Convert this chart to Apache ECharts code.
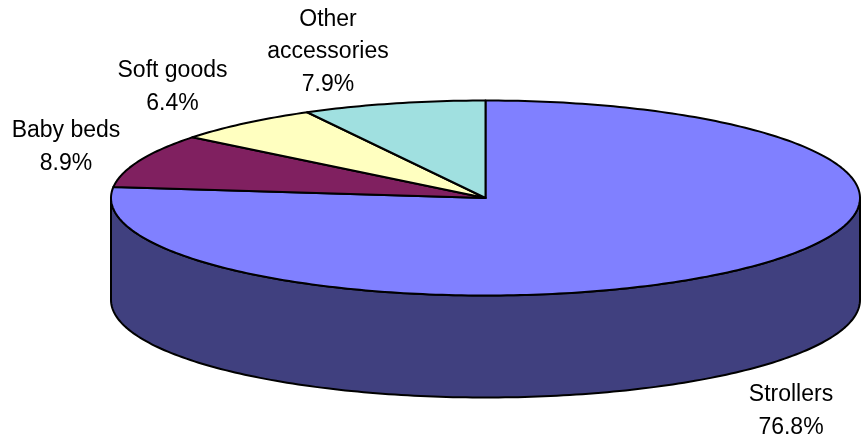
<!DOCTYPE html>
<html>
<head>
<meta charset="utf-8">
<style>html,body{margin:0;padding:0;background:#fff}#c{width:861px;height:443px}</style>
<script src="https://cdn.jsdelivr.net/npm/echarts@6/dist/echarts.min.js"></script>
</head>
<body>
<div id="c"></div>
<script>
const categories = ['Strollers', 'Baby beds', 'Soft goods', 'Other\naccessories'];
const shares = [76.8, 8.9, 6.4, 7.9];
const topColors = ['#8080FF', '#802060', '#FFFFC0', '#A0E0E0'];
const sideColors = ['#40407F', '#401030', '#80805F', '#507070'];
const labelCenters = [[791, 411], [66, 147], [172.5, 87], [328, 52]];

const CX = 485.5, CY = 198, RX = 374.5, RY = 97.5, DEPTH = 102;
const total = shares.reduce((a, b) => a + b, 0);
const pt = (deg, dy) => {
  const r = deg * Math.PI / 180;
  return [CX + RX * Math.sin(r), CY - RY * Math.cos(r) + (dy || 0)];
};
const arc = (a, b, dy) => {
  const pts = [], n = Math.max(2, Math.ceil(Math.abs(b - a) / 1));
  for (let i = 0; i <= n; i++) pts.push(pt(a + (b - a) * i / n, dy));
  return pts;
};
const edge = { stroke: '#000', lineWidth: 2, lineJoin: 'round' };

function renderItem(params, api) {
  const i = params.dataIndex;
  let before = 0;
  for (let k = 0; k < i; k++) before += shares[k];
  const start = before / total * 360;
  const end = start + api.value(0) / total * 360;
  const children = [];
  const s0 = Math.max(start, 90), s1 = Math.min(end, 270);
  if (s1 > s0) {
    children.push({
      type: 'polygon',
      z2: 1,
      shape: { points: arc(s0, s1, 0).concat(arc(s1, s0, DEPTH)) },
      style: Object.assign({ fill: sideColors[i] }, edge)
    });
  }
  children.push({
    type: 'polygon',
    z2: 2,
    shape: { points: [[CX, CY]].concat(arc(start, end, 0)) },
    style: Object.assign({ fill: topColors[i] }, edge)
  });
  children.push({
    type: 'text',
    z2: 3,
    style: {
      text: categories[i] + '\n' + api.value(0).toFixed(1) + '%',
      x: labelCenters[i][0],
      y: labelCenters[i][1],
      align: 'center',
      verticalAlign: 'middle',
      font: '23px "Liberation Sans", Arial, sans-serif',
      lineHeight: 32.5,
      fill: '#000'
    }
  });
  return { type: 'group', children };
}

const chart = echarts.init(document.getElementById('c'), null, { renderer: 'canvas' });
chart.setOption({
  animation: false,
  backgroundColor: '#fff',
  series: [{
    type: 'custom',
    coordinateSystem: 'none',
    renderItem,
    silent: true,
    data: shares.map((v, i) => ({ name: categories[i], value: [v] }))
  }]
});
</script>
</body>
</html>
